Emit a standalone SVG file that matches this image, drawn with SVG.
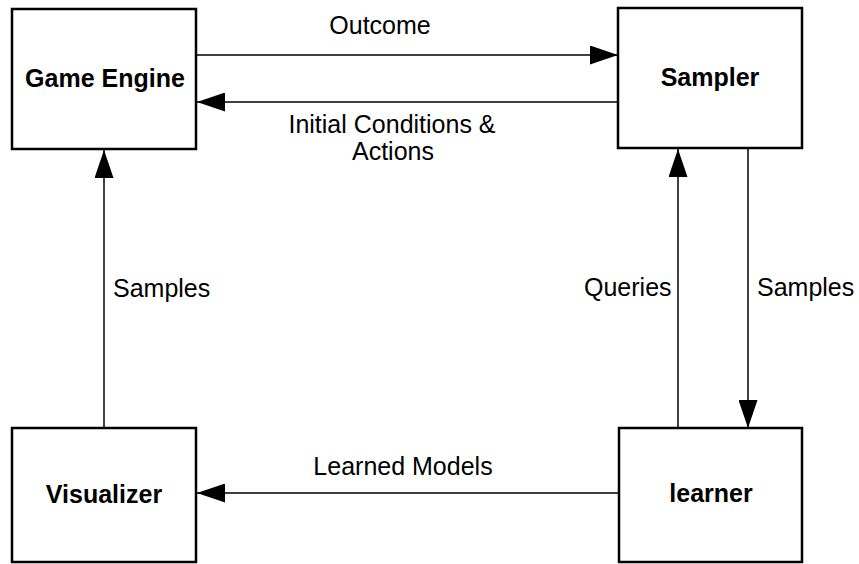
<svg xmlns="http://www.w3.org/2000/svg" width="859" height="564" viewBox="0 0 859 564">
<style>
.box{fill:#fff;stroke:#000;stroke-width:2.5}
.lbl{font-family:"Liberation Sans",Arial,sans-serif;font-size:25px;font-weight:bold;text-anchor:middle;fill:#000}
.txt{font-family:"Liberation Sans",Arial,sans-serif;font-size:25px;fill:#000}
.c{text-anchor:middle}
.ln{stroke:#000;stroke-width:1.5;fill:none;marker-end:url(#ah)}
</style>
<defs>
<marker id="ah" markerUnits="userSpaceOnUse" markerWidth="28" markerHeight="19" refX="28" refY="9.5" orient="auto">
<path d="M0,0 L28,9.5 L0,19 z" fill="#000"/>
</marker>
</defs>
<rect width="859" height="564" fill="#fff"/>
<g id="connectors">
<line class="ln" x1="196" y1="55" x2="618" y2="55"/>
<line class="ln" x1="618" y1="102" x2="197" y2="102"/>
<line class="ln" x1="104" y1="428" x2="104" y2="150"/>
<line class="ln" x1="678" y1="428" x2="678" y2="149"/>
<line class="ln" x1="748" y1="149" x2="748" y2="428"/>
<line class="ln" x1="619" y1="493" x2="197" y2="493"/>
<text class="txt c" x="380" y="34">Outcome</text>
<text class="txt c" x="392" y="133">Initial Conditions &amp;</text>
<text class="txt c" x="393" y="160">Actions</text>
<text class="txt" x="113" y="297">Samples</text>
<text class="txt" x="584" y="296">Queries</text>
<text class="txt" x="757" y="296">Samples</text>
<text class="txt c" x="403" y="475">Learned Models</text>
</g>
<g id="game-engine">
<rect class="box" x="12" y="9" width="184" height="140"/>
<text class="lbl" x="105" y="87">Game Engine</text>
</g>
<g id="sampler">
<rect class="box" x="618" y="8" width="184" height="140"/>
<text class="lbl" x="710" y="86">Sampler</text>
</g>
<g id="visualizer">
<rect class="box" x="12" y="428" width="184" height="134"/>
<text class="lbl" x="104" y="503">Visualizer</text>
</g>
<g id="learner">
<rect class="box" x="619" y="428" width="183" height="134"/>
<text class="lbl" x="711" y="502">learner</text>
</g>
</svg>
